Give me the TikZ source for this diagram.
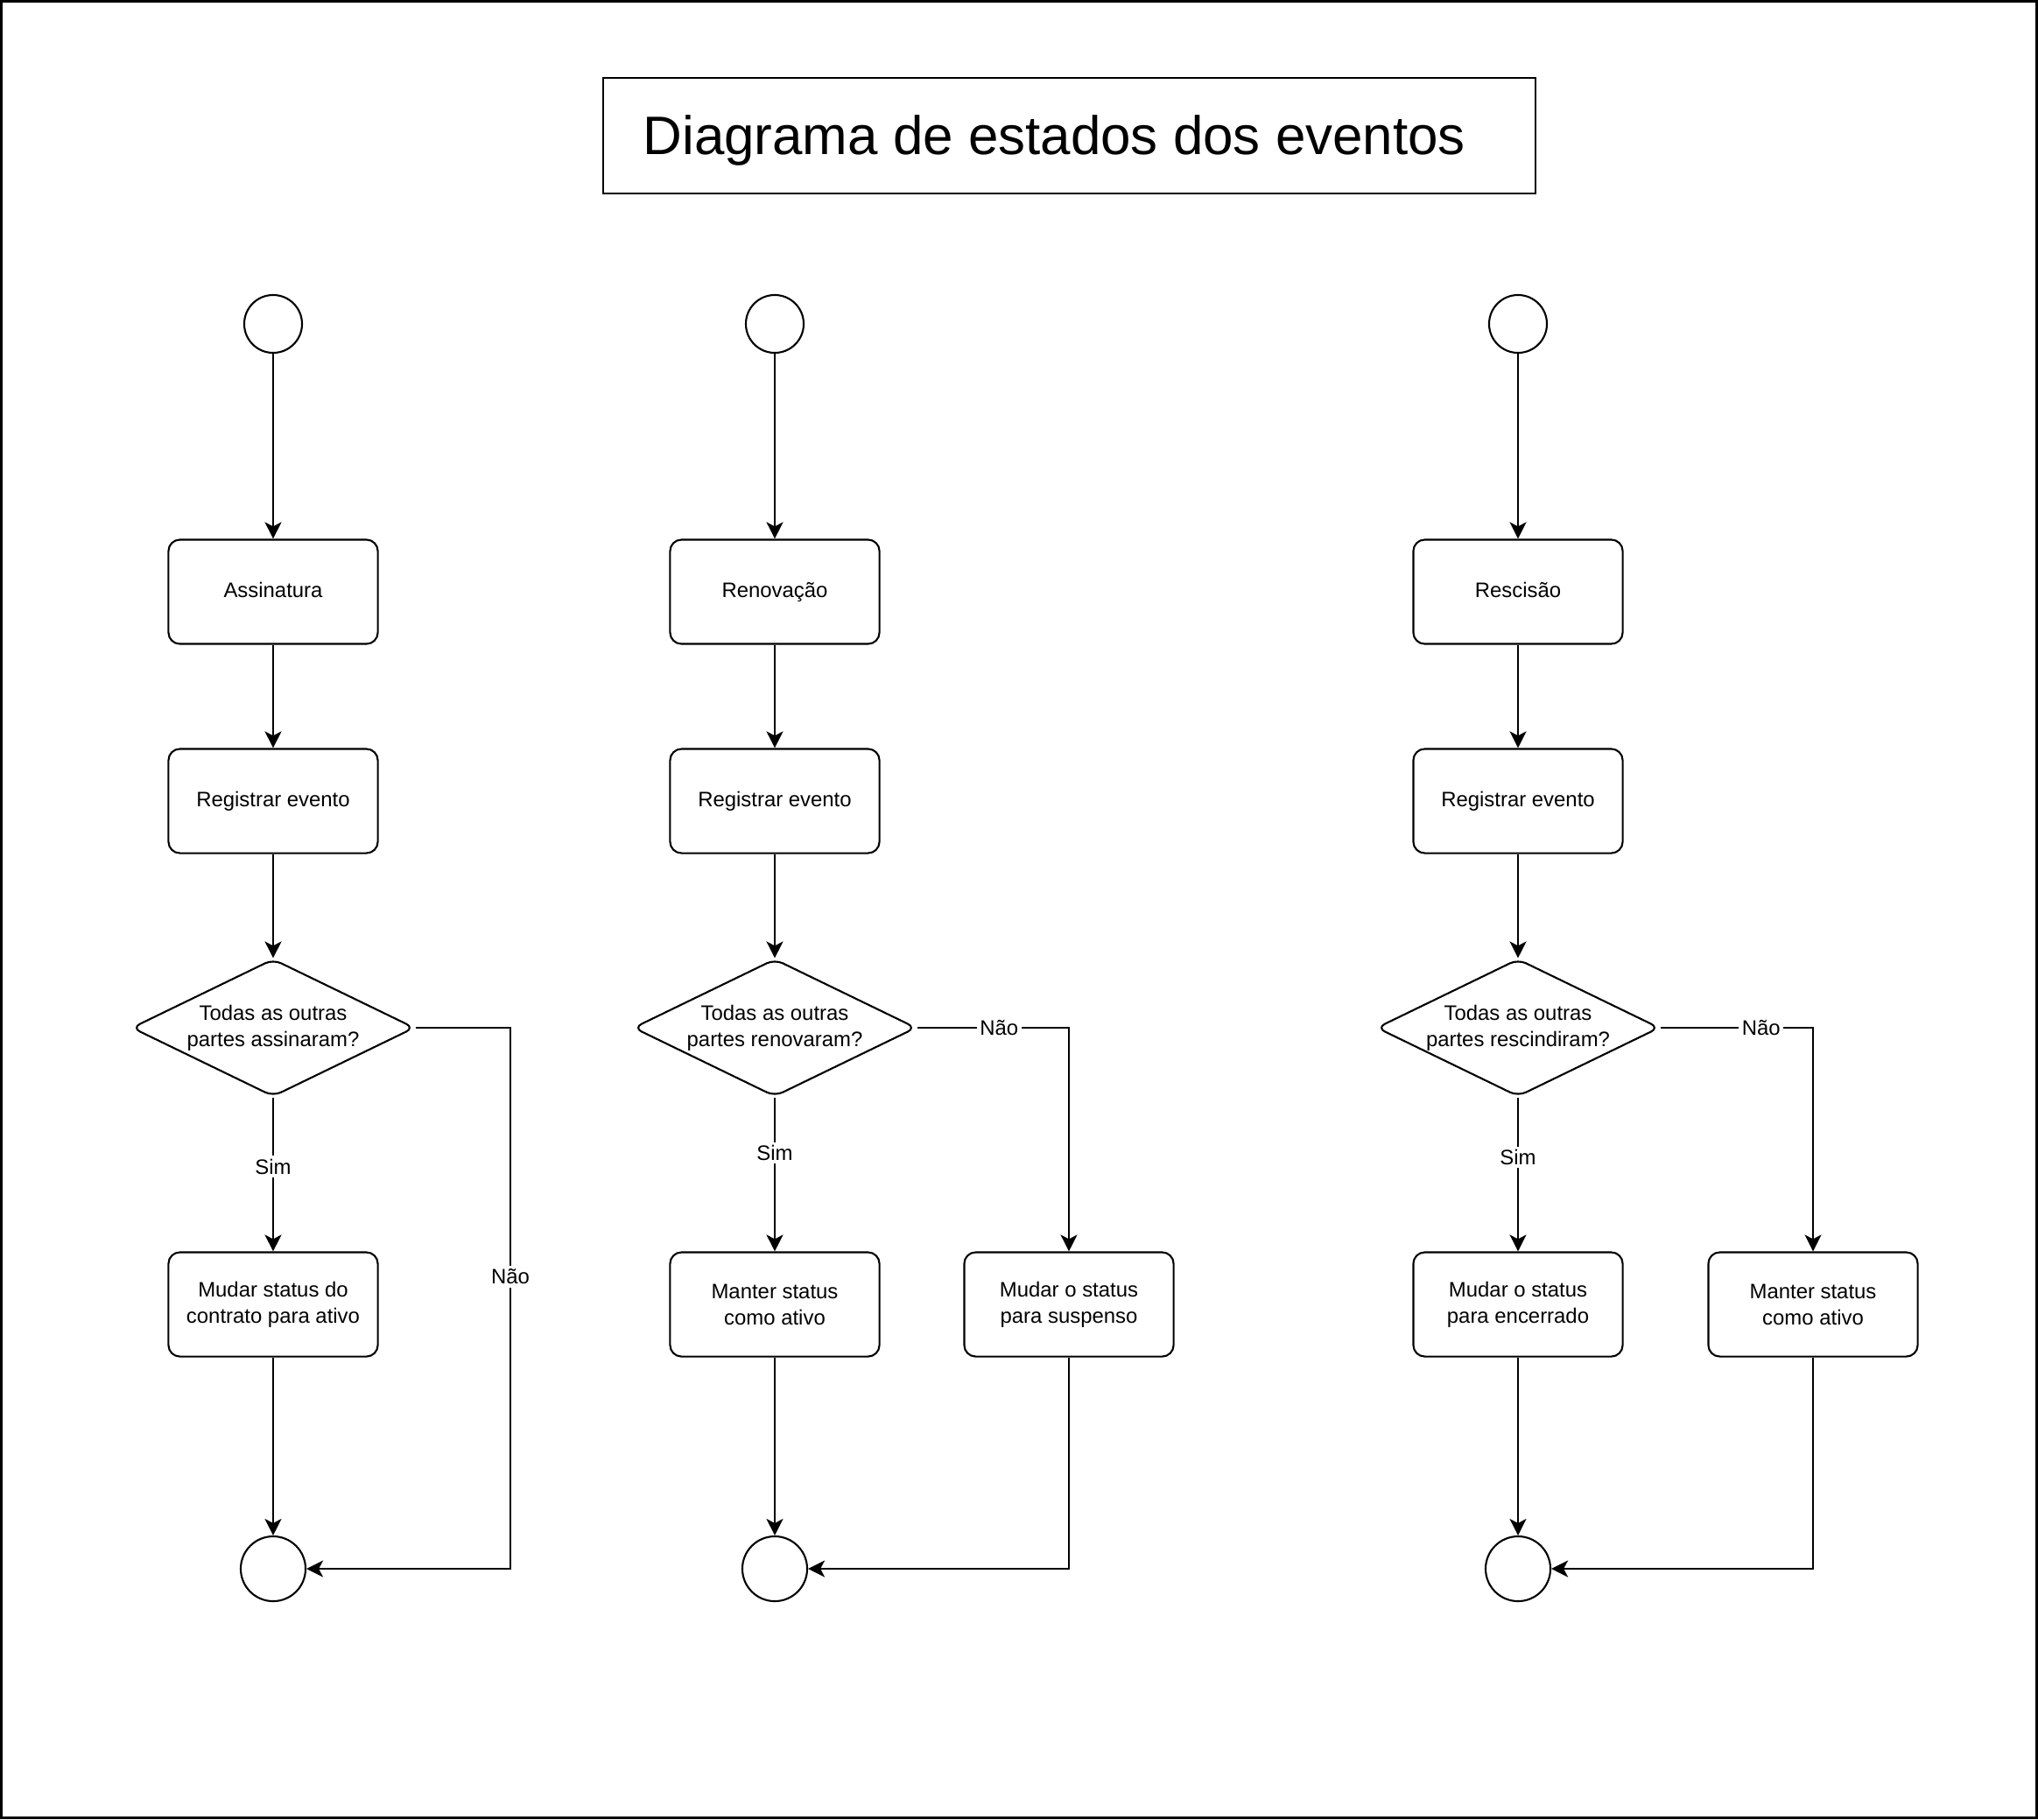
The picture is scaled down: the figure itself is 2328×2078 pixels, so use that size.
\documentclass[tikz,border=0pt]{standalone}
\usepackage{fontspec}
\setmainfont{Liberation Sans}
\usetikzlibrary{shapes.geometric,arrows.meta,positioning}

\tikzset{
  estado/.style={draw, rounded corners=0.13cm, minimum width=2.39cm, minimum height=1.19cm,
    align=center, font=\fontsize{6.8}{8.6}\selectfont, line width=0.6pt},
  linha/.style={text height=1.3ex, text depth=0.55ex},
  decisao/.style={draw, diamond, aspect=2.06, minimum width=3.23cm, minimum height=1.57cm,
    inner sep=0pt, rounded corners=0.1cm, line width=0.6pt},
  pergunta/.style={font=\fontsize{6.8}{8.6}\selectfont, align=center},
  inicio/.style={draw, circle, minimum size=0.66cm, inner sep=0pt, line width=0.6pt},
  fim/.style={draw, circle, minimum size=0.74cm, inner sep=0pt, line width=0.6pt},
  seta/.style={-{Stealth[length=0.19cm, width=0.19cm, inset=0.05cm]}, line width=0.6pt},
  rotulo/.style={fill=white, inner sep=1pt, font=\fontsize{6.8}{8.6}\selectfont},
}

\begin{document}
\begin{tikzpicture}[x=0.01cm, y=-0.01cm]
    \useasboundingbox (0,0) rectangle (2328,2078);
    % Moldura
    \draw[line width=0.75pt] (1.3,1.3) rectangle (2326.7,2076.7);

    % Titulo
    \draw[line width=0.6pt] (689,89) rectangle (1754,221);
    \node[anchor=west, inner sep=0pt, font=\fontsize{17.6}{21}\selectfont] (titulo) at (734,160) {Diagrama de estados dos eventos};

    % Assinatura
    \node[inicio] (i1) at (312,370) {};
    \node[estado, linha] (a1) at (312,676) {Assinatura};
    \node[estado, linha] (r1) at (312,915) {Registrar evento};
    \node[decisao, label={[pergunta]center:{Todas as outras\\partes assinaram?}}] (d1) at (312,1174) {};
    \node[estado] (s1) at (312,1490) {Mudar status do\\contrato para ativo};
    \node[fim] (f1) at (312,1792) {};
    \coordinate (c1) at (583,1174);

    % Renovacao
    \node[inicio] (i2) at (885,370) {};
    \node[estado, linha] (a2) at (885,676) {Renova\c{c}\~ao};
    \node[estado, linha] (r2) at (885,915) {Registrar evento};
    \node[decisao, label={[pergunta]center:{Todas as outras\\partes renovaram?}}] (d2) at (885,1174) {};
    \node[estado] (s2) at (885,1490) {Manter status\\como ativo};
    \node[estado] (n2) at (1221,1490) {Mudar o status\\para suspenso};
    \node[fim] (f2) at (885,1792) {};

    % Rescisao
    \node[inicio] (i3) at (1734,370) {};
    \node[estado, linha] (a3) at (1734,676) {Rescis\~ao};
    \node[estado, linha] (r3) at (1734,915) {Registrar evento};
    \node[decisao, label={[pergunta]center:{Todas as outras\\partes rescindiram?}}] (d3) at (1734,1174) {};
    \node[estado] (s3) at (1734,1490) {Mudar o status\\para encerrado};
    \node[estado] (n3) at (2071,1490) {Manter status\\como ativo};
    \node[fim] (f3) at (1734,1792) {};

    % Fluxo principal
    \foreach \c in {1,2,3} {
        \draw[seta] (i\c) -- (a\c);
        \draw[seta] (a\c) -- (r\c);
        \draw[seta] (r\c) -- (d\c);
        \draw[seta] (s\c) -- (f\c);
    }
    \draw[seta] (d1) -- (s1) node[rotulo, pos=0.45] {Sim};
    \draw[seta] (d2) -- (s2) node[rotulo, pos=0.36] {Sim};
    \draw[seta] (d3) -- (s3) node[rotulo, pos=0.39] {Sim};

    % Ramos "Nao"
    \draw[seta] (d1.east) -- (c1) |- (f1.east) node[rotulo, pos=0.23] {N\~ao};
    \draw[seta] (d2.east) -| (n2.north) node[rotulo, pos=0.27] {N\~ao};
    \draw[seta] (n2.south) |- (f2.east);
    \draw[seta] (d3.east) -| (n3.north) node[rotulo, pos=0.33] {N\~ao};
    \draw[seta] (n3.south) |- (f3.east);
\end{tikzpicture}
\end{document}
